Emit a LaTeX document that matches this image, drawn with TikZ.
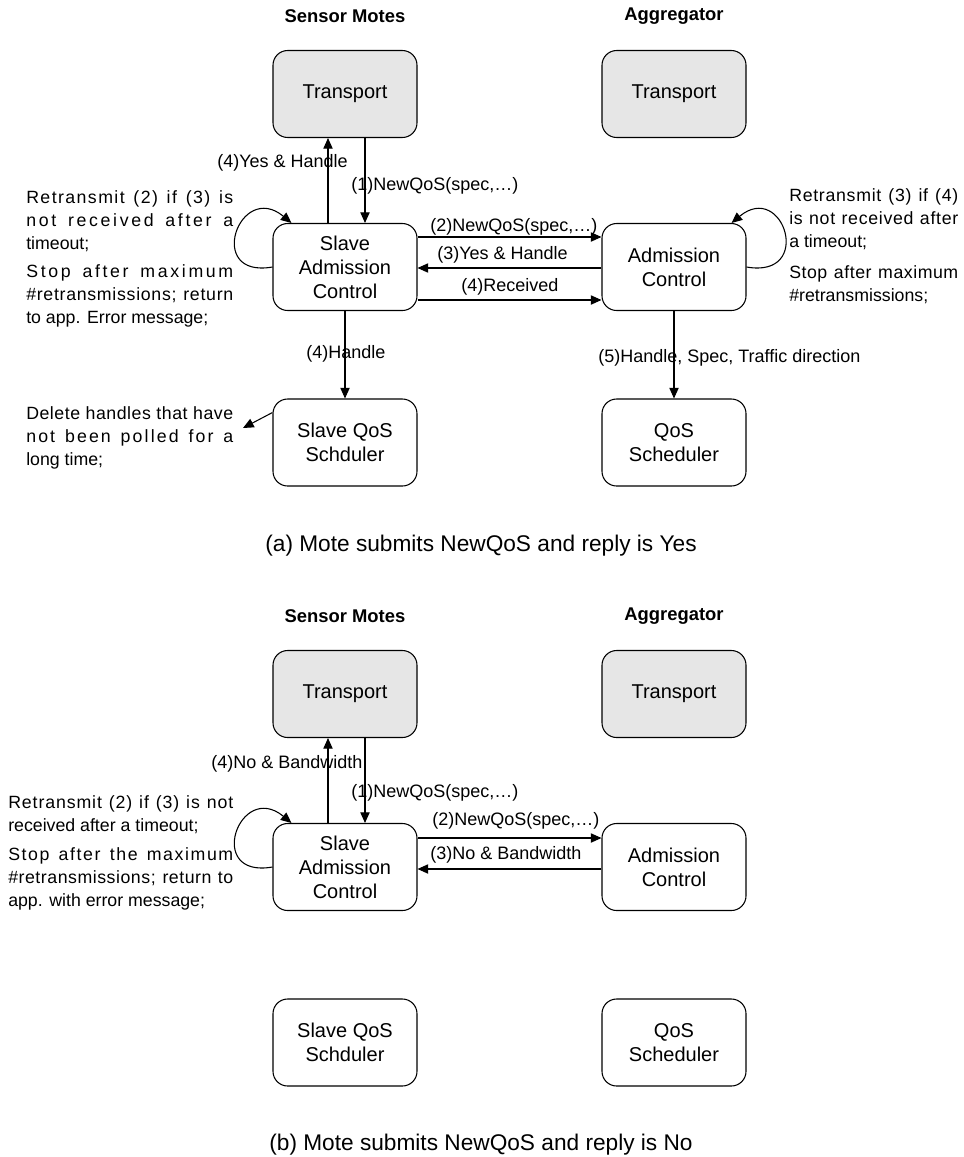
\documentclass[tikz,border=0pt]{standalone}
\usepackage{fontspec}
\setmainfont{Liberation Sans}
\usetikzlibrary{arrows.meta,calc}
\definecolor{boxgray}{HTML}{E6E6E6}
\newcommand\labelfont{\fontsize{13.5}{17.25}\selectfont}
\newcommand\notefont{\fontsize{13.3}{17.25}\selectfont}
\newcommand\blockfont{\fontsize{15}{18}\selectfont}
% a line of a note, tracked by #2 and spread to the full note width #1
\newcommand\stretchline[3]{\makebox[#1][s]{\addfontfeature{LetterSpace=#2}#3}}

\begin{document}
\begin{tikzpicture}[x=0.75pt,y=-0.75pt,
  block/.style={draw, line width=0.8pt, rounded corners=11pt,
    minimum width=108pt, minimum height=65.25pt, inner sep=0pt,
    align=center, font=\blockfont},
  transport/.style={block, fill=boxgray},
  msg/.style={anchor=west, inner sep=0pt, font=\labelfont},
  note/.style={anchor=north west, inner sep=0pt, align=left, font=\notefont},
  side/.style={inner sep=0pt, font=\fontsize{13.8}{16}\selectfont\bfseries},
  caption/.style={inner sep=0pt, font=\fontsize{17}{20}\selectfont},
  flow/.style={-{Triangle[length=8pt,width=7pt]}, line width=0.8pt},
]
\useasboundingbox (0,0) rectangle (964,1157);

% ---------------- (a) reply is Yes ----------------
\node[side] (aMotes) at (345,16) {Sensor Motes};
\node[side] (aAgg) at (674,16) {Aggregator};

\node[transport] (aTrS) at (345,94) {Transport};
\node[transport] (aTrG) at (674,94) {Transport};
\node[block] (aSAC) at (345,267) {Slave\\Admission\\Control};
\node[block] (aAC) at (674,267) {Admission\\Control};
\node[block] (aSQ) at (345,442.5) {Slave QoS\\Schduler};
\node[block] (aQS) at (674,442.5) {QoS\\Scheduler};

\draw[flow] ($(aSAC.north)+(-17,0)$) -- ($(aTrS.south)+(-17,0)$);
\draw[flow] ($(aTrS.south)+(20,0)$) -- ($(aSAC.north)+(20,0)$);
\draw[flow] ($(aSAC.east)+(0,-30)$) -- ($(aAC.west)+(0,-30)$);
\draw[flow] ($(aAC.west)+(0,1)$) -- ($(aSAC.east)+(0,1)$);
\draw[flow] ($(aSAC.east)+(0,33)$) -- ($(aAC.west)+(0,33)$);
\draw[flow] (aSAC.south) -- (aSQ.north);
\draw[flow] (aAC.south) -- (aQS.north);
\draw[flow] (aSAC.west) .. controls +(-68,12) and +(-52,-43) .. ($(aSAC.north west)+(19,0)$);
\draw[flow] (aAC.east) .. controls +(68,12) and +(52,-43) .. ($(aAC.north east)+(-15,0)$);
\coordinate (aDel) at (243,428);
\draw[flow] ($(aSQ.west)+(0,-30)$) -- (aDel);

\node[msg] (aL4) at (217,163) {(4)Yes \& Handle};
\node[msg] (aL1) at (351,186) {(1)NewQoS(spec,…)};
\node[msg] (aL2) at (430,227) {(2)NewQoS(spec,…)};
\node[msg] (aL3) at (437,255) {(3)Yes \& Handle};
\node[msg] (aL4r) at (461,287) {(4)Received};
\node[msg] (aL4h) at (306,354) {(4)Handle};
\node[msg] (aL5) at (598,358) {(5)Handle, Spec, Traffic direction};

\node[note] (aNoteL) at (26,190) {%
  \stretchline{155.25pt}{8}{Retransmit (2) if (3) is}\\
  \stretchline{155.25pt}{15}{not received after a}\\
  timeout;\\[3.75pt]
  \stretchline{155.25pt}{15}{Stop after maximum}\\
  \stretchline{155.25pt}{4}{\#retransmissions; return}\\
  to app. Error message;};
\node[note] (aNoteR) at (789,188) {%
  \stretchline{126.75pt}{4}{Retransmit (3) if (4)}\\
  \stretchline{126.75pt}{4}{is not received after}\\
  a timeout;\\[6pt]
  \stretchline{126.75pt}{3}{Stop after maximum}\\
  \#retransmissions;};
\node[note] (aNoteD) at (26,406) {%
  \stretchline{155.25pt}{3}{Delete handles that have}\\
  \stretchline{155.25pt}{12}{not been polled for a}\\
  long time;};

\node[caption] (aCap) at (481,546) {(a) Mote submits NewQoS and reply is Yes};

% ---------------- (b) reply is No ----------------
\node[side] (bMotes) at (345,616) {Sensor Motes};
\node[side] (bAgg) at (674,616) {Aggregator};

\node[transport] (bTrS) at (345,694) {Transport};
\node[transport] (bTrG) at (674,694) {Transport};
\node[block] (bSAC) at (345,867) {Slave\\Admission\\Control};
\node[block] (bAC) at (674,867) {Admission\\Control};
\node[block] (bSQ) at (345,1042.5) {Slave QoS\\Schduler};
\node[block] (bQS) at (674,1042.5) {QoS\\Scheduler};

\draw[flow] ($(bSAC.north)+(-17,0)$) -- ($(bTrS.south)+(-17,0)$);
\draw[flow] ($(bTrS.south)+(20,0)$) -- ($(bSAC.north)+(20,0)$);
\draw[flow] ($(bSAC.east)+(0,-29)$) -- ($(bAC.west)+(0,-29)$);
\draw[flow] ($(bAC.west)+(0,2)$) -- ($(bSAC.east)+(0,2)$);
\draw[flow] (bSAC.west) .. controls +(-68,12) and +(-52,-43) .. ($(bSAC.north west)+(19,0)$);

\node[msg] (bL4) at (211,764) {(4)No \& Bandwidth};
\node[msg] (bL1) at (351,793) {(1)NewQoS(spec,…)};
\node[msg] (bL2) at (432,821) {(2)NewQoS(spec,…)};
\node[msg] (bL3) at (430,855) {(3)No \& Bandwidth};

\node[note] (bNoteL) at (8,795) {%
  \stretchline{168.75pt}{5}{Retransmit (2) if (3) is not}\\
  received after a timeout;\\[4.5pt]
  \stretchline{168.75pt}{9}{Stop after the maximum}\\
  \stretchline{168.75pt}{3}{\#retransmissions; return to}\\
  app. with error message;};

\node[caption] (bCap) at (481,1145) {(b) Mote submits NewQoS and reply is No};
\end{tikzpicture}
\end{document}
